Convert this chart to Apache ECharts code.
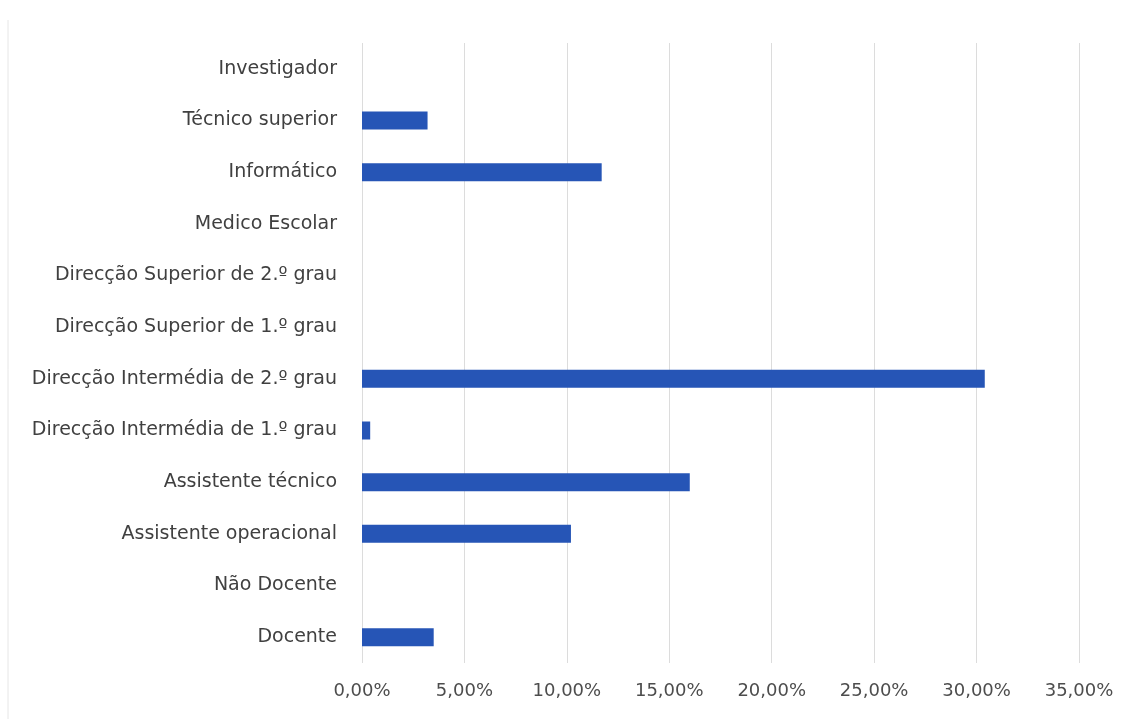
<!DOCTYPE html>
<html><head><meta charset="utf-8">
<script src="https://cdn.jsdelivr.net/npm/echarts@6/dist/echarts.min.js"></script>
<style>html,body{margin:0;padding:0;background:#fff}#c{width:1132px;height:719px}</style>
</head><body><div id="c"></div>
<script>
const categories = ["Investigador","Técnico superior","Informático","Medico Escolar","Direcção Superior de 2.º grau","Direcção Superior de 1.º grau","Direcção Intermédia de 2.º grau","Direcção Intermédia de 1.º grau","Assistente técnico","Assistente operacional","Não Docente","Docente"];
const values = [0, 3.2, 11.7, 0, 0, 0, 30.4, 0.4, 16.0, 10.2, 0, 3.5];
const xTicks = {min: 0, max: 35, interval: 5};

const chart = echarts.init(document.getElementById('c'), null, {renderer: 'canvas'});
chart.setOption({
  animation: false,
  backgroundColor: '#fff',
  grid: {left: 362, right: 53, top: 43, bottom: 56, containLabel: false},
  xAxis: {
    type: 'value', min: xTicks.min, max: xTicks.max, interval: xTicks.interval,
    axisLine: {show: false}, axisTick: {show: false},
    splitLine: {show: true, lineStyle: {color: '#dcdcdc', width: 1}},
    axisLabel: {formatter: v => v.toFixed(2).replace('.', ',') + '%', color: '#4d4d4d', fontSize: 18, fontFamily: 'DejaVu Sans', margin: 19}
  },
  yAxis: {
    type: 'category', data: categories, inverse: true,
    axisLine: {show: false}, axisTick: {show: false},
    axisLabel: {color: '#404040', fontSize: 19, fontFamily: 'DejaVu Sans', margin: 25}
  },
  series: [{type: 'bar', data: values, barWidth: 18, itemStyle: {color: '#2655b6'}}],
  graphic: [{type: 'line', shape: {x1: 8, y1: 20, x2: 8, y2: 719}, style: {stroke: '#e6e6e6', lineWidth: 1}}]
});
</script></body></html>
